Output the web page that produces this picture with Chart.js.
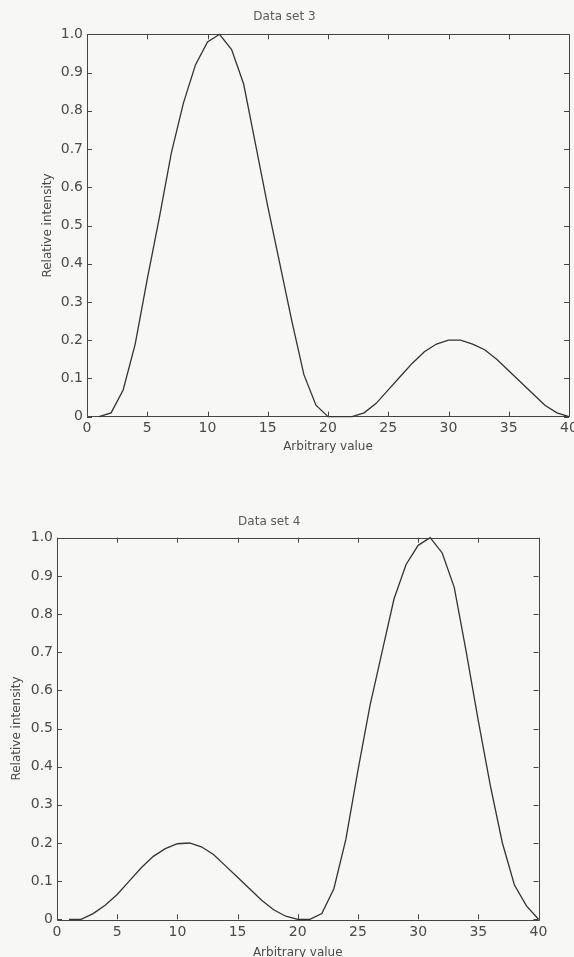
<!DOCTYPE html>
<html>
<head>
<meta charset="utf-8">
<script src="https://cdn.jsdelivr.net/npm/chart.js@4/dist/chart.umd.min.js"></script>
<style>
  html, body { margin: 0; padding: 0; width: 574px; height: 957px; overflow: hidden; background: #f7f7f6; }
  .box { position: absolute; left: 0; width: 574px; }
  #b1 { top: 0; height: 470px; }
  #b2 { top: 470px; height: 500px; }
</style>
</head>
<body>
<div class="box" id="b1"><canvas id="c1"></canvas></div>
<div class="box" id="b2"><canvas id="c2"></canvas></div>
<script>
// ---- data ----
const xValues = [1,2,3,4,5,6,7,8,9,10,11,12,13,14,15,16,17,18,19,20,21,22,23,24,25,26,27,28,29,30,31,32,33,34,35,36,37,38,39,40];
const dataSet3 = [0, 0.01, 0.07, 0.19, 0.36, 0.52, 0.69, 0.82, 0.92, 0.98, 1.0, 0.96, 0.87, 0.71, 0.55, 0.40, 0.25, 0.11, 0.03, 0.0,
                  0.0, 0.0, 0.01, 0.035, 0.07, 0.105, 0.14, 0.17, 0.19, 0.2, 0.2, 0.19, 0.175, 0.15, 0.12, 0.09, 0.06, 0.03, 0.01, 0.0];
const dataSet4 = [0, 0, 0.015, 0.037, 0.065, 0.1, 0.135, 0.165, 0.185, 0.198, 0.2, 0.19, 0.17, 0.14, 0.11, 0.08, 0.05, 0.025, 0.008, 0,
                  0, 0.015, 0.08, 0.21, 0.39, 0.56, 0.70, 0.84, 0.93, 0.98, 1.0, 0.96, 0.87, 0.70, 0.52, 0.35, 0.20, 0.09, 0.035, 0];
const xTickValues = [0, 5, 10, 15, 20, 25, 30, 35, 40];
const yTickValues = [0, 0.1, 0.2, 0.3, 0.4, 0.5, 0.6, 0.7, 0.8, 0.9, 1.0];
const yTickLabels = ['0', '0.1', '0.2', '0.3', '0.4', '0.5', '0.6', '0.7', '0.8', '0.9', '1.0'];
const titles = ['Data set 3', 'Data set 4'];
const xAxisTitle = 'Arbitrary value';
const yAxisTitle = 'Relative intensity';

// ---- styling ----
const FONT = "'DejaVu Sans', sans-serif";
const LINE = '#333333';
const TEXT = '#4a4a4a';

const boxTicks = {
  id: 'boxTicks',
  beforeDatasetsDraw(chart) {
    const {ctx, chartArea: a, scales: {x, y}} = chart;
    const L = 5;
    ctx.save();
    ctx.strokeStyle = '#444444';
    ctx.lineWidth = 1;
    ctx.beginPath();
    ctx.rect(Math.round(a.left) + 0.5, Math.round(a.top) + 0.5, Math.round(a.right - a.left), Math.round(a.bottom - a.top));
    xTickValues.forEach(v => {
      const px = Math.round(x.getPixelForValue(v)) + 0.5;
      ctx.moveTo(px, a.bottom); ctx.lineTo(px, a.bottom - L);
      ctx.moveTo(px, a.top); ctx.lineTo(px, a.top + L);
    });
    yTickValues.forEach(v => {
      const py = Math.round(y.getPixelForValue(v)) + 0.5;
      ctx.moveTo(a.left, py); ctx.lineTo(a.left + L, py);
      ctx.moveTo(a.right, py); ctx.lineTo(a.right - L, py);
    });
    ctx.stroke();
    ctx.restore();
  }
};

function makeChart(id, values, cfg) {
  return new Chart(document.getElementById(id), {
    type: 'line',
    data: {
      datasets: [{
        data: xValues.map((xv, i) => ({x: xv, y: values[i]})),
        borderColor: LINE,
        borderWidth: 1.3,
        pointRadius: 0,
        tension: 0,
        fill: false,
        clip: false
      }]
    },
    options: {
      responsive: true,
      maintainAspectRatio: false,
      animation: false,
      events: [],
      layout: { padding: cfg.layoutPadding },
      plugins: {
        legend: { display: false },
        tooltip: { enabled: false },
        title: {
          display: true,
          text: cfg.title,
          color: '#5a5a5a',
          font: { family: FONT, size: 12, weight: 'normal' },
          padding: cfg.titlePadding
        }
      },
      scales: {
        x: {
          type: 'linear',
          min: 0, max: 40,
          afterBuildTicks(axis) { axis.ticks = xTickValues.map(v => ({value: v})); },
          afterFit(axis) { axis.height = cfg.xHeight; axis.paddingLeft = 0; axis.paddingRight = 0; },
          grid: { display: false, drawTicks: false },
          border: { display: false },
          ticks: { color: TEXT, font: { family: FONT, size: 14 }, padding: cfg.xTickPad, maxRotation: 0, autoSkip: false },
          title: { display: true, text: xAxisTitle, color: TEXT, font: { family: FONT, size: 12 }, padding: { top: 0, bottom: cfg.xTitlePad } }
        },
        y: {
          type: 'linear',
          min: 0, max: 1,
          afterBuildTicks(axis) { axis.ticks = yTickValues.map(v => ({value: v})); },
          afterFit(axis) { axis.width = cfg.yWidth; axis.paddingTop = 0; axis.paddingBottom = 0; },
          grid: { display: false, drawTicks: false },
          border: { display: false },
          ticks: {
            color: TEXT, font: { family: FONT, size: 14 }, padding: 4, autoSkip: false,
            callback: (v) => { const i = yTickValues.findIndex(t => Math.abs(t - v) < 1e-9); return i >= 0 ? yTickLabels[i] : ''; }
          },
          title: { display: true, text: yAxisTitle, color: TEXT, font: { family: FONT, size: 12 }, padding: { top: cfg.yTitlePad, bottom: 0 } }
        }
      }
    },
    plugins: [boxTicks]
  });
}

makeChart('c1', dataSet3, {
  title: titles[0],
  layoutPadding: { left: 0, right: 5, top: 0, bottom: 13.3 },
  titlePadding: { top: 10, bottom: 9.9 },
  xHeight: 40, xTickPad: 3, xTitlePad: 2.5,
  yWidth: 87, yTitlePad: 40.3
});

makeChart('c2', dataSet4, {
  title: titles[1],
  layoutPadding: { left: 0, right: 35.5, top: 0, bottom: 0 },
  titlePadding: { top: 44.8, bottom: 8.5 },
  xHeight: 50.7, xTickPad: 5, xTitlePad: 10,
  yWidth: 57, yTitlePad: 9.3
});
</script>
</body>
</html>
